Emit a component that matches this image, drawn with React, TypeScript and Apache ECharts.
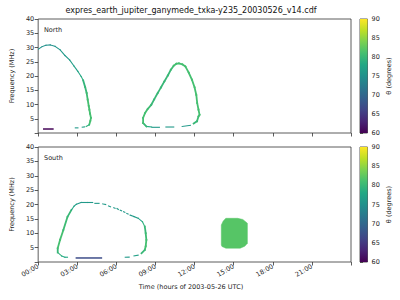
import React, { useEffect, useRef } from "react";
import * as echarts from "echarts";

type Pt = [number, number, number]; // [hour, MHz, theta deg]

const TITLE = "expres_earth_jupiter_ganymede_txka-y235_20030526_v14.cdf";
const X_TITLE = "Time (hours of 2003-05-26 UTC)";
const Y_TITLE = "Frequency (MHz)";
const CB_TITLE = "θ (degrees)";
const PANEL_LABELS = ["North", "South"];

const X_MIN = 0;
const X_MAX = 24;
const X_STEP = 3;
const Y_MIN = 0;
const Y_MAX = 40;
const Y_STEP = 5;
const THETA_MIN = 60;
const THETA_MAX = 90;
const THETA_STEP = 5;

const VIRIDIS = [
  "#440154", "#482475", "#414487", "#355f8d", "#2a788e", "#21918c",
  "#22a884", "#44bf70", "#7ad151", "#bddf26", "#fde725",
];

// ---- North hemisphere ----
const northLoopA: Pt[] = [
  [0.0, 29.4, 75], [0.3, 30.3, 75], [0.6, 30.8, 75], [0.93, 30.9, 75],
  [1.3, 30.4, 75.5], [1.68, 29.2, 76], [2.05, 27.2, 76], [2.42, 25.6, 76.5],
  [2.75, 23.5, 77], [3.05, 21.6, 77.5], [3.3, 19.8, 78.5], [3.45, 18.5, 79.5],
  [3.6, 16.2, 80], [3.72, 14.0, 80.5], [3.8, 11.7, 81], [3.88, 9.5, 81],
  [3.93, 8.2, 81], [3.98, 6.8, 81], [4.05, 5.3, 81], [4.0, 4.2, 81],
  [3.92, 2.9, 79], [3.68, 2.3, 78],
];
const northDashesA: Pt[][] = [
  [[3.55, 2.15, 77], [3.38, 2.05, 77]],
  [[3.05, 1.8, 76], [2.85, 1.8, 76]],
];
const northLowBand: Pt[] = [[0.43, 1.4, 60.3], [1.13, 1.4, 60.3]];

const northLoopB: Pt[] = [
  [8.7, 2.1, 78], [8.3, 2.3, 80], [8.05, 3.5, 81], [8.05, 5.3, 81],
  [8.2, 7.0, 81], [8.4, 8.4, 80.5], [8.68, 9.9, 80], [8.9, 11.8, 80],
  [9.17, 14.0, 80], [9.42, 16.0, 80], [9.68, 18.1, 80], [9.95, 20.2, 80],
  [10.18, 22.2, 80.5], [10.4, 23.6, 81], [10.6, 24.3, 81], [10.8, 24.4, 81],
  [11.05, 24.1, 81], [11.3, 23.3, 81], [11.55, 21.2, 81], [11.8, 18.7, 81],
  [12.0, 16.0, 81], [12.13, 13.4, 81], [12.2, 10.5, 81], [12.3, 8.2, 81],
  [12.38, 6.4, 81], [12.3, 5.8, 80.5], [12.18, 4.1, 80], [11.93, 3.3, 78],
];
const northDashesB: Pt[][] = [
  [[8.73, 2.0, 76], [9.3, 2.0, 76]],
  [[9.8, 2.1, 76], [10.4, 2.1, 76]],
  [[11.05, 2.3, 76], [11.68, 2.7, 77]],
];

// ---- South hemisphere ----
const southLoopLeft: Pt[] = [
  [2.25, 1.66, 78], [2.05, 1.66, 78], [1.8, 2.1, 79], [1.5, 3.3, 80],
  [1.5, 4.8, 81], [1.68, 7.7, 81], [1.93, 11.1, 80.5], [2.25, 15.7, 80],
  [2.55, 18.1, 78], [2.75, 19.4, 77], [2.93, 20.1, 76], [3.3, 20.7, 76],
  [3.8, 20.7, 76], [4.18, 20.7, 76],
];
const southUpperDashes: Pt[][] = [
  [[4.35, 20.4, 76], [4.67, 20.4, 76]],
  [[4.95, 20.2, 76], [5.18, 20.0, 76]],
  [[5.4, 19.5, 76], [5.55, 19.2, 76]],
  [[5.8, 18.9, 76], [5.9, 18.7, 76]],
  [[6.05, 18.6, 76], [6.15, 18.3, 76]],
  [[6.3, 18.0, 76], [6.4, 17.8, 76]],
  [[6.55, 17.5, 76], [6.65, 17.3, 76]],
  [[6.8, 16.9, 76], [6.9, 16.7, 76]],
];
const southLoopRight: Pt[] = [
  [7.05, 16.3, 76], [7.35, 15.8, 76.5], [7.68, 15.2, 77], [8.0, 14.0, 79],
  [8.18, 12.3, 80], [8.25, 10.0, 80.5], [8.3, 7.7, 81], [8.25, 5.5, 81],
  [8.18, 4.2, 80], [7.93, 3.05, 78],
];
const southLowerDashes: Pt[][] = [
  [[7.67, 2.4, 77], [7.35, 2.1, 77]],
  [[6.98, 1.7, 76], [6.68, 1.66, 76]],
];
const southLowBand: Pt[] = [[2.93, 1.4, 67], [4.85, 1.4, 67]];

const southBlobOutline: [number, number][] = [
  [14.4, 15.2], [15.3, 15.2], [15.7, 14.8], [16.05, 13.5], [16.05, 6.5],
  [15.85, 5.5], [15.5, 4.8], [14.4, 4.8], [14.1, 5.4], [14.05, 5.9],
  [14.05, 12.9], [14.2, 14.3],
];
const southBlobTheta = 82;

// ---------------------------------------------------------
function toSegments(curves: Pt[][]): number[][] {
  const out: number[][] = [];
  curves.forEach((c) => {
    for (let i = 0; i < c.length - 1; i++) {
      out.push([c[i][0], c[i][1], c[i][2], c[i + 1][0], c[i + 1][1]]);
    }
  });
  return out;
}

const FONT = "DejaVu Sans";
const AX = "#333333";
const TXT = "#262626";

const GRIDS = [
  { left: 31, top: 19, width: 320, height: 114 },
  { left: 31, top: 147, width: 320, height: 115 },
];
const CB_GRIDS = [
  { left: 360, top: 19, width: 7.5, height: 114 },
  { left: 360, top: 147, width: 7.5, height: 115 },
];

function segmentRender(params: any, api: any) {
  const p1 = api.coord([api.value(0), api.value(1)]);
  const p2 = api.coord([api.value(3), api.value(4)]);
  const th = api.value(2);
  return {
    type: "line",
    shape: { x1: p1[0], y1: p1[1], x2: p2[0], y2: p2[1] },
    style: {
      stroke: api.visual("color"),
      lineWidth: th >= 79.5 ? 1.8 : th < 70 ? 1.5 : 1.1,
      lineCap: "square",
    },
  };
}

function hhmm(v: number): string {
  if (v >= 24) return "";
  return String(v).padStart(2, "0") + ":00";
}

export default function App() {
  const ref = useRef<HTMLDivElement>(null);
  useEffect(() => {
    document.body.style.margin = "0";
    if (!ref.current) return;
    const chart = echarts.init(ref.current, undefined, { renderer: "svg" });

    const northSeg = toSegments([northLoopA, ...northDashesA, northLowBand, northLoopB, ...northDashesB]);
    const southSeg = toSegments([southLoopLeft, ...southUpperDashes, southLoopRight, ...southLowerDashes, southLowBand]);

    const xAxes: any[] = [];
    const yAxes: any[] = [];
    GRIDS.forEach((g, i) => {
      xAxes.push({
        type: "value",
        gridIndex: i,
        min: X_MIN,
        max: X_MAX,
        interval: X_STEP,
        axisLine: { show: false },
        axisTick: { show: true, length: 3.5, lineStyle: { color: AX, width: 0.8 } },
        splitLine: { show: false },
        axisLabel: {
          show: i === 1,
          rotate: 30,
          margin: 4,
          fontSize: 6.5,
          fontFamily: FONT,
          color: TXT,
          formatter: hhmm,
        },
      });
      yAxes.push({
        type: "value",
        gridIndex: i,
        min: Y_MIN,
        max: Y_MAX,
        interval: Y_STEP,
        axisLine: { show: false },
        axisTick: { show: true, length: 3.5, lineStyle: { color: AX, width: 0.8 } },
        splitLine: { show: false },
        axisLabel: {
          fontSize: 6.5,
          fontFamily: FONT,
          color: TXT,
          margin: 4,
          formatter: (v: number) => (v === 0 ? "" : String(v)),
        },
        name: Y_TITLE,
        nameLocation: "middle",
        nameRotate: 90,
        nameGap: 20,
        nameTextStyle: { fontSize: 6.5, fontFamily: FONT, color: TXT },
      });
    });
    CB_GRIDS.forEach((g, k) => {
      const gi = 2 + k;
      xAxes.push({ type: "value", gridIndex: gi, min: 0, max: 1, show: false });
      yAxes.push({
        type: "value",
        gridIndex: gi,
        position: "right",
        min: THETA_MIN,
        max: THETA_MAX,
        interval: THETA_STEP,
        axisLine: { show: false },
        axisTick: { show: true, length: 3, lineStyle: { color: AX, width: 0.8 } },
        splitLine: { show: false },
        axisLabel: { fontSize: 6.5, fontFamily: FONT, color: TXT, margin: 4 },
        name: CB_TITLE,
        nameLocation: "middle",
        nameRotate: 90,
        nameGap: 18,
        nameTextStyle: { fontSize: 6.5, fontFamily: FONT, color: TXT },
      });
    });

    const n = VIRIDIS.length;
    const cbStops = VIRIDIS.map((_, i) => ({ offset: i / (n - 1), color: VIRIDIS[n - 1 - i] }));
    const colorbarRender = (params: any, api: any) => {
      const a = api.coord([0, THETA_MAX]);
      const b = api.coord([1, THETA_MIN]);
      return {
        type: "rect",
        shape: { x: a[0], y: a[1], width: b[0] - a[0], height: b[1] - a[1] },
        style: { fill: new echarts.graphic.LinearGradient(0, 0, 0, 1, cbStops) },
      };
    };

    const blobRender = (params: any, api: any) => {
      const pts = southBlobOutline.map((p) => api.coord(p));
      return {
        type: "polygon",
        shape: { points: pts },
        style: { fill: api.visual("color"), stroke: api.visual("color"), lineWidth: 0.5 },
      };
    };

    const option: any = {
      animation: false,
      backgroundColor: "#fff",
      textStyle: { fontFamily: FONT, color: TXT },
      grid: [...GRIDS, ...CB_GRIDS].map((g) => ({
        ...g,
        show: true,
        borderColor: AX,
        borderWidth: 0.8,
        backgroundColor: "transparent",
        containLabel: false,
      })),
      xAxis: xAxes,
      yAxis: yAxes,
      visualMap: [
        {
          type: "continuous",
          show: false,
          min: THETA_MIN,
          max: THETA_MAX,
          dimension: 2,
          seriesIndex: [0, 1, 2],
          inRange: { color: VIRIDIS },
        },
      ],
      graphic: [
        {
          type: "text",
          x: 191,
          y: 10,
          style: {
            text: TITLE,
            fontSize: 8,
            fontFamily: FONT,
            fill: "#111",
            textAlign: "center",
            textVerticalAlign: "middle",
          },
        },
        {
          type: "text",
          x: 191,
          y: 287,
          style: {
            text: X_TITLE,
            fontSize: 6.5,
            fontFamily: FONT,
            fill: TXT,
            textAlign: "center",
            textVerticalAlign: "middle",
          },
        },
        {
          type: "text",
          x: 44,
          y: 30,
          style: { text: PANEL_LABELS[0], fontSize: 6.5, fontFamily: FONT, fill: TXT, textVerticalAlign: "middle" },
        },
        {
          type: "text",
          x: 44,
          y: 158,
          style: { text: PANEL_LABELS[1], fontSize: 6.5, fontFamily: FONT, fill: TXT, textVerticalAlign: "middle" },
        },
      ],
      series: [
        {
          type: "custom",
          xAxisIndex: 0,
          yAxisIndex: 0,
          renderItem: segmentRender,
          encode: { x: [0, 3], y: [1, 4] },
          data: northSeg,
          clip: true,
        },
        {
          type: "custom",
          xAxisIndex: 1,
          yAxisIndex: 1,
          renderItem: segmentRender,
          encode: { x: [0, 3], y: [1, 4] },
          data: southSeg,
          clip: true,
        },
        {
          type: "custom",
          xAxisIndex: 1,
          yAxisIndex: 1,
          renderItem: blobRender,
          encode: { x: 0, y: 1 },
          data: [[15.05, 10, southBlobTheta]],
        },
        {
          type: "custom",
          xAxisIndex: 2,
          yAxisIndex: 2,
          renderItem: colorbarRender,
          data: [[0, THETA_MIN]],
          silent: true,
        },
        {
          type: "custom",
          xAxisIndex: 3,
          yAxisIndex: 3,
          renderItem: colorbarRender,
          data: [[0, THETA_MIN]],
          silent: true,
        },
      ],
    };
    chart.setOption(option);
    return () => chart.dispose();
  }, []);
  return <div ref={ref} style={{ width: 400, height: 300 }} />;
}
